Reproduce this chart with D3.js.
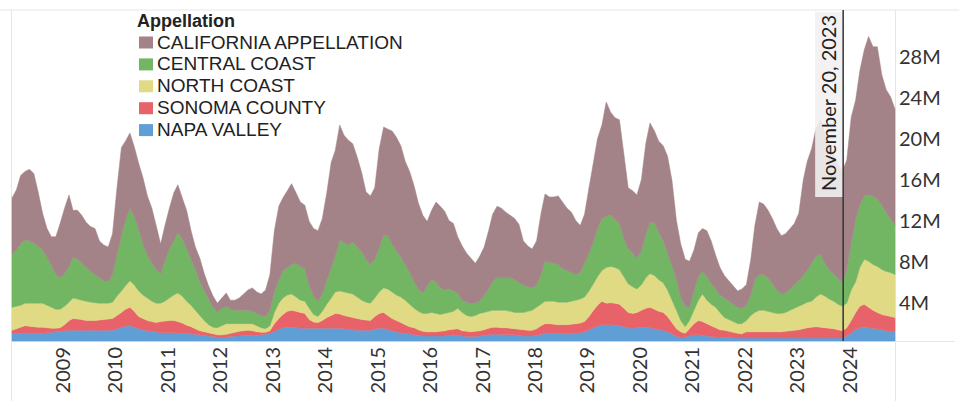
<!DOCTYPE html>
<meta charset="UTF-8">
<style>
    body { margin: 0; background: #fff; }
    svg { display: block; }
</style>
<body>
<div id="chart"></div>
<script src="https://d3js.org/d3.v7.min.js"></script>
<script>

// monthly volume by appellation, in millions (Jan 2008 .. Nov 2024, one line per year)
var napa = [
    0.75, 0.75, 0.75, 0.75, 0.75, 0.75, 0.75, 0.75, 0.8, 0.85, 0.9, 0.95,
    1.0, 1.05, 1.05, 1.05, 1.05, 1.05, 1.05, 1.05, 1.05, 1.05, 1.05, 1.05,
    1.2, 1.35, 1.45, 1.5, 1.35, 1.2, 1.1, 1.0, 0.95, 0.9, 0.8, 0.8,
    0.8, 0.8, 0.78, 0.76, 0.75, 0.7, 0.65, 0.6, 0.55, 0.5, 0.45, 0.4,
    0.4, 0.4, 0.45, 0.5, 0.5, 0.55, 0.55, 0.55, 0.55, 0.6, 0.65, 0.75,
    0.95, 1.15, 1.3, 1.35, 1.35, 1.3, 1.25, 1.25, 1.25, 1.25, 1.25, 1.25,
    1.25, 1.25, 1.25, 1.25, 1.2, 1.15, 1.1, 1.05, 1.05, 1.05, 1.05, 1.15,
    1.25, 1.25, 1.15, 1.0, 0.9, 0.8, 0.75, 0.7, 0.6, 0.55, 0.5, 0.5,
    0.5, 0.5, 0.5, 0.5, 0.55, 0.6, 0.55, 0.5, 0.45, 0.45, 0.45, 0.5,
    0.55, 0.6, 0.65, 0.65, 0.65, 0.6, 0.6, 0.6, 0.55, 0.5, 0.5, 0.5,
    0.55, 0.65, 0.75, 0.75, 0.75, 0.75, 0.7, 0.7, 0.7, 0.75, 0.8, 0.9,
    1.1, 1.3, 1.45, 1.6, 1.6, 1.6, 1.55, 1.5, 1.4, 1.3, 1.25, 1.3,
    1.35, 1.35, 1.3, 1.2, 1.1, 1.05, 0.9, 0.7, 0.45, 0.4, 0.4, 0.5,
    0.6, 0.6, 0.55, 0.5, 0.45, 0.4, 0.4, 0.35, 0.35, 0.3, 0.3, 0.3,
    0.3, 0.3, 0.3, 0.3, 0.3, 0.3, 0.3, 0.3, 0.3, 0.3, 0.3, 0.3,
    0.3, 0.3, 0.3, 0.3, 0.3, 0.3, 0.3, 0.3, 0.3, 0.3, 0.3, 0.5,
    0.8, 1.1, 1.3, 1.35, 1.3, 1.25, 1.2, 1.1, 1.0, 0.95, 0.9
];

var sonoma = [
    0.3, 0.45, 0.6, 0.75, 0.7, 0.65, 0.6, 0.6, 0.5, 0.4, 0.35, 0.35,
    0.6, 0.95, 1.15, 1.1, 1.05, 0.95, 0.95, 0.95, 1.0, 1.05, 1.1, 1.15,
    1.3, 1.45, 1.65, 1.8, 1.55, 1.2, 1.1, 1.0, 0.95, 0.9, 1.1, 1.15,
    1.2, 1.2, 1.12, 0.99, 0.8, 0.7, 0.55, 0.4, 0.35, 0.3, 0.25, 0.2,
    0.2, 0.25, 0.3, 0.35, 0.45, 0.45, 0.5, 0.45, 0.35, 0.25, 0.2, 0.25,
    0.75, 1.05, 1.3, 1.55, 1.65, 1.6, 1.55, 1.45, 0.85, 0.6, 0.55, 0.75,
    1.05, 1.25, 1.45, 1.4, 1.3, 1.25, 1.2, 1.15, 1.05, 1.0, 0.95, 1.25,
    1.45, 1.55, 1.35, 1.2, 1.1, 1.0, 0.85, 0.7, 0.7, 0.55, 0.45, 0.4,
    0.4, 0.4, 0.45, 0.5, 0.55, 0.55, 0.65, 0.5, 0.5, 0.45, 0.5, 0.5,
    0.55, 0.65, 0.7, 0.7, 0.65, 0.7, 0.65, 0.6, 0.6, 0.6, 0.55, 0.55,
    0.65, 0.85, 0.95, 0.95, 0.9, 0.85, 0.9, 0.9, 0.95, 0.95, 0.95, 1.0,
    1.3, 1.7, 2.05, 2.3, 2.1, 2.15, 2.15, 2.1, 1.8, 1.5, 1.45, 1.5,
    1.65, 1.85, 2.0, 1.9, 1.8, 1.75, 1.5, 1.1, 0.75, 0.5, 0.35, 0.7,
    1.1, 1.4, 1.35, 1.2, 1.05, 0.9, 0.7, 0.7, 0.6, 0.55, 0.45, 0.4,
    0.6, 0.6, 0.6, 0.6, 0.6, 0.6, 0.6, 0.6, 0.6, 0.65, 0.7, 0.75,
    0.8, 0.9, 1.0, 1.05, 1.1, 1.05, 1.0, 0.95, 0.9, 0.8, 0.7, 0.8,
    1.2, 1.7, 2.1, 2.25, 2.0, 1.75, 1.6, 1.5, 1.5, 1.45, 1.4
];

var northCoast = [
    2.25, 2.2, 2.15, 2.2, 2.25, 2.3, 2.35, 2.35, 2.2, 2.05, 1.85, 1.8,
    1.8, 1.8, 2.0, 1.95, 1.9, 1.9, 1.8, 1.75, 1.65, 1.6, 1.55, 1.6,
    1.9, 2.1, 2.3, 2.6, 2.6, 2.5, 2.3, 2.2, 2.0, 1.9, 1.8, 1.95,
    2.2, 2.5, 2.8, 2.65, 2.35, 2.1, 1.8, 1.5, 1.1, 0.8, 0.65, 0.7,
    0.9, 1.05, 0.95, 0.85, 0.75, 0.7, 0.65, 0.7, 0.6, 0.45, 0.35, 0.5,
    1.1, 1.5, 1.6, 1.6, 1.6, 1.4, 1.2, 1.2, 1.1, 0.75, 0.6, 0.9,
    1.3, 1.7, 2.1, 2.25, 2.3, 2.3, 2.3, 2.1, 1.9, 1.75, 1.7, 1.8,
    2.1, 2.4, 2.6, 2.6, 2.5, 2.5, 2.4, 2.2, 1.9, 1.8, 1.75, 1.8,
    1.9, 1.8, 1.65, 1.7, 1.7, 1.75, 2.0, 1.8, 1.55, 1.5, 1.55, 1.7,
    1.7, 1.65, 1.65, 1.65, 1.7, 1.7, 1.65, 1.6, 1.65, 1.7, 1.85, 1.95,
    2.1, 2.1, 2.2, 2.2, 2.25, 2.2, 2.2, 2.2, 2.25, 2.3, 2.35, 2.4,
    2.5, 2.6, 2.8, 3.0, 3.5, 3.55, 3.5, 3.4, 3.1, 2.8, 2.6, 2.3,
    2.5, 3.0, 3.3, 3.3, 3.1, 2.9, 2.6, 2.2, 1.8, 1.1, 0.65, 0.8,
    1.3, 2.0, 2.7, 2.3, 2.1, 2.0, 1.7, 1.25, 1.15, 1.05, 0.95, 1.0,
    1.1, 1.6, 1.9, 2.1, 2.1, 2.0, 1.9, 1.8, 1.8, 1.85, 2.0, 2.15,
    2.3, 2.4, 2.5, 2.55, 2.9, 3.25, 3.1, 2.85, 2.7, 2.5, 2.4, 2.4,
    3.0, 3.0, 3.8, 4.4, 4.5, 4.5, 4.5, 4.4, 4.3, 4.3, 4.2
];

var centralCoast = [
    5.2, 5.5, 6.0, 6.2, 6.1, 5.9, 5.6, 5.2, 4.7, 4.1, 3.4, 3.1,
    3.2, 3.5, 4.0, 3.9, 3.6, 3.3, 3.0, 2.75, 2.5, 2.2, 2.1, 2.7,
    4.1, 5.4, 6.4, 7.1, 6.7, 6.0, 5.0, 4.2, 3.7, 3.3, 2.9, 3.9,
    4.8, 5.3, 5.9, 5.6, 5.1, 4.5, 4.0, 3.3, 2.9, 2.5, 1.95, 1.5,
    1.7, 1.7, 1.4, 1.3, 1.3, 1.3, 1.3, 1.2, 1.2, 1.2, 1.2, 1.5,
    2.0, 2.3, 2.6, 2.7, 2.9, 3.3, 3.3, 3.2, 2.2, 1.8, 1.5, 1.7,
    2.3, 3.0, 3.5, 5.0, 4.8, 4.7, 5.1, 4.9, 4.7, 4.2, 3.8, 3.8,
    4.3, 5.2, 5.2, 4.7, 4.3, 3.9, 3.5, 3.1, 2.6, 2.2, 2.0, 2.7,
    3.2, 3.1, 2.6, 2.3, 2.3, 2.0, 1.5, 1.2, 1.3, 1.25, 1.2, 1.2,
    1.7, 2.2, 2.8, 3.2, 3.2, 3.2, 3.3, 3.2, 2.9, 2.7, 2.4, 2.2,
    2.2, 2.9, 3.9, 3.8, 3.7, 3.7, 3.3, 3.1, 2.8, 2.5, 2.6, 3.3,
    3.7, 4.1, 4.7, 5.1, 5.0, 5.0, 4.7, 4.5, 3.7, 3.4, 3.3, 3.0,
    3.3, 4.2, 5.0, 5.2, 4.6, 4.1, 3.6, 3.4, 3.0, 2.3, 2.0, 1.3,
    1.9, 2.3, 2.2, 2.3, 2.0, 1.8, 1.7, 1.9, 1.8, 1.7, 1.6, 1.5,
    1.5, 2.0, 3.2, 3.5, 3.5, 3.3, 2.8, 2.3, 1.9, 1.9, 2.1, 2.3,
    2.5, 2.8, 3.1, 3.7, 4.0, 3.9, 3.2, 2.9, 2.7, 2.5, 2.3, 3.3,
    4.5, 6.1, 6.1, 6.2, 6.5, 6.7, 6.6, 6.3, 5.8, 5.2, 4.9
];

var california = [
    5.5, 5.9, 6.7, 6.7, 7.0, 6.8, 5.3, 3.6, 2.8, 2.8, 3.7, 5.3,
    6.4, 7.0, 4.6, 4.8, 4.7, 4.4, 4.4, 4.5, 3.6, 3.5, 3.4, 4.0,
    6.5, 8.65, 7.75, 7.35, 6.85, 6.5, 6.5, 5.8, 5.4, 4.3, 2.9, 3.5,
    4.0, 4.7, 4.7, 4.0, 3.8, 2.8, 2.2, 2.3, 1.7, 1.3, 1.1, 0.9,
    1.0, 1.3, 0.9, 1.0, 1.2, 1.6, 2.0, 2.3, 2.1, 2.1, 2.6, 3.5,
    6.0, 7.2, 7.2, 7.5, 7.9, 6.9, 6.3, 6.2, 6.3, 6.6, 6.9, 7.4,
    8.6, 10.3, 10.35, 11.25, 10.55, 10.25, 9.6, 8.8, 7.8, 6.6, 6.7, 7.0,
    9.7, 10.55, 10.45, 11.05, 11.15, 10.9, 10.1, 9.9, 9.4, 8.4, 7.6, 6.3,
    6.8, 7.8, 8.0, 7.7, 6.7, 6.6, 5.5, 5.3, 4.8, 4.45, 3.9, 4.4,
    4.7, 5.7, 6.6, 7.0, 6.8, 6.4, 6.1, 6.0, 5.7, 4.3, 4.0, 3.8,
    4.3, 6.0, 6.6, 6.4, 6.5, 6.7, 6.5, 6.1, 5.9, 5.3, 4.6, 4.8,
    6.4, 7.8, 8.8, 9.15, 11.2, 10.1, 9.95, 10.15, 8.3, 6.0, 6.1, 6.2,
    7.0, 8.95, 9.75, 8.95, 8.95, 9.3, 9.5, 8.3, 5.8, 5.2, 4.6, 4.5,
    4.0, 4.3, 4.2, 4.5, 4.2, 3.3, 2.7, 2.2, 2.0, 1.8, 1.6, 1.9,
    2.0, 3.5, 5.3, 7.1, 6.9, 6.6, 6.4, 6.0, 5.7, 5.8, 5.9, 6.0,
    6.6, 9.35, 10.7, 11.25, 12.55, 13.15, 12.75, 12.35, 11.7, 11.2, 11.0, 10.7,
    12.4, 11.7, 13.15, 14.3, 15.5, 14.6, 14.9, 12.75, 12.0, 12.0, 11.3
];

// stacking order, bottom to top
var keys = ["napa", "sonoma", "northCoast", "centralCoast", "california"];
var names = {
    california: "CALIFORNIA APPELLATION",
    centralCoast: "CENTRAL COAST",
    northCoast: "NORTH COAST",
    sonoma: "SONOMA COUNTY",
    napa: "NAPA VALLEY"
};
var colors = {
    california: "#a38387",
    centralCoast: "#72b563",
    northCoast: "#e0da84",
    sonoma: "#e8626a",
    napa: "#5f9fd5"
};
var legendOrder = ["california", "centralCoast", "northCoast", "sonoma", "napa"];

var yearTicks = [2009, 2010, 2011, 2012, 2013, 2014, 2015, 2016,
                 2017, 2018, 2019, 2020, 2021, 2022, 2023, 2024];
var yTicks = [4, 8, 12, 16, 20, 24, 28];
var markerDate = new Date(2023, 10, 20);
var markerLabel = "November 20, 2023";

// dimensions
var width = 959, height = 401;
var plot = {left: 12, right: 895, top: 10, bottom: 341};
var axisFont = "Lato, 'Open Sans', sans-serif";

var series = {napa: napa, sonoma: sonoma, northCoast: northCoast,
              centralCoast: centralCoast, california: california};

// one row per month, dated mid-month
var rows = napa.map(function(d, i) {
    var r = {date: new Date(2008, i, 15)};
    keys.forEach(function(k) { r[k] = series[k][i]; });
    return r;
});

var x = d3.scaleTime()
    .domain(d3.extent(rows, function(d) { return d.date; }))
    .range([plot.left, plot.right]);
var y = d3.scaleLinear().domain([0, 32.4]).range([plot.bottom, plot.top]);

var layers = d3.stack().keys(keys)(rows);

var area = d3.area()
    .x(function(d) { return x(d.data.date); })
    .y0(function(d) { return y(d[0]); })
    .y1(function(d) { return y(d[1]); });

var svg = d3.select("#chart").append("svg")
    .attr("width", width)
    .attr("height", height);

// pane borders
var border = "#e6e6e6";
svg.append("line").attr("x1", 0).attr("x2", width).attr("y1", plot.top).attr("y2", plot.top)
    .attr("stroke", border);
svg.append("line").attr("x1", plot.left).attr("x2", width - 4).attr("y1", plot.bottom + 0.5).attr("y2", plot.bottom + 0.5)
    .attr("stroke", border);
svg.append("line").attr("x1", plot.left - 0.5).attr("x2", plot.left - 0.5).attr("y1", plot.top).attr("y2", height)
    .attr("stroke", border);
svg.append("line").attr("x1", plot.right + 0.5).attr("x2", plot.right + 0.5).attr("y1", plot.top).attr("y2", height)
    .attr("stroke", border);

// stacked areas
svg.append("g").selectAll("path")
    .data(layers)
    .join("path")
    .attr("d", area)
    .attr("fill", function(d) { return colors[d.key]; })
    .attr("stroke", function(d) { return colors[d.key]; })
    .attr("stroke-width", 0.5);

// x axis: rotated year labels
var xAxis = svg.append("g")
    .attr("transform", "translate(0," + (plot.bottom + 4) + ")")
    .call(d3.axisBottom(x)
        .tickValues(yearTicks.map(function(yr) { return new Date(yr, 0, 1); }))
        .tickFormat(d3.timeFormat("%Y"))
        .tickSize(0));
xAxis.select(".domain").remove();
xAxis.selectAll("text")
    .attr("transform", "rotate(-90)")
    .attr("x", -2)
    .attr("y", 0)
    .attr("dy", "0.35em")
    .attr("text-anchor", "end")
    .attr("font-family", axisFont)
    .attr("font-size", 20)
    .attr("fill", "#333");

// y axis on the right
var yAxis = svg.append("g")
    .attr("transform", "translate(" + plot.right + ",0)")
    .call(d3.axisRight(y)
        .tickValues(yTicks)
        .tickFormat(function(d) { return d + "M"; })
        .tickSize(0));
yAxis.select(".domain").remove();
yAxis.selectAll("text")
    .attr("x", 4)
    .attr("dy", "0.45em")
    .attr("font-family", axisFont)
    .attr("font-size", 20)
    .attr("fill", "#333");

// reference line and its label
var mx = x(markerDate);
svg.append("rect")
    .attr("x", mx - 28).attr("y", plot.top + 2)
    .attr("width", 28).attr("height", 185)
    .attr("fill", "#f2f0f0").attr("fill-opacity", 0.9);
svg.append("line")
    .attr("x1", mx).attr("x2", mx)
    .attr("y1", plot.top).attr("y2", plot.bottom)
    .attr("stroke", "#333").attr("stroke-width", 1.5);
svg.append("text")
    .attr("transform", "translate(" + (mx - 14) + "," + (plot.top + 181) + ") rotate(-90)")
    .attr("dy", "0.35em")
    .attr("font-family", axisFont)
    .attr("font-size", 20)
    .attr("fill", "#222")
    .text(markerLabel);

// legend
var legend = svg.append("g").attr("font-family", "'Liberation Sans', Arial, sans-serif");
legend.append("text")
    .attr("x", 137).attr("y", 27)
    .attr("font-size", 18).attr("font-weight", "bold").attr("fill", "#222")
    .text("Appellation");
legendOrder.forEach(function(k, i) {
    var by = 48.5 + i * 21.9;
    legend.append("rect")
        .attr("x", 139).attr("y", by - 12)
        .attr("width", 14).attr("height", 12)
        .attr("fill", colors[k]);
    legend.append("text")
        .attr("x", 157).attr("y", by)
        .attr("font-size", 19).attr("fill", "#222")
        .text(names[k]);
});

</script>
</body>
